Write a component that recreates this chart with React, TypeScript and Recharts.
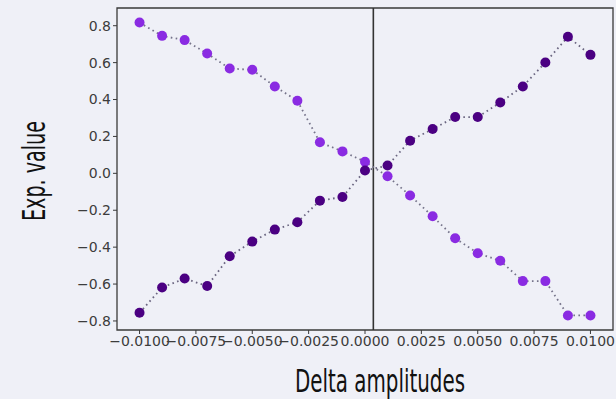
import React from 'react';
import { LineChart, Line, XAxis, YAxis, ReferenceLine, ReferenceArea, Label } from 'recharts';

// delta amplitude values on the x axis
const deltas = [
  -0.01, -0.009, -0.008, -0.007, -0.006, -0.005, -0.004, -0.003, -0.002, -0.001,
  0, 0.001, 0.002, 0.003, 0.004, 0.005, 0.006, 0.007, 0.008, 0.009, 0.01,
];

// light purple series (falling)
const expFalling = [
  0.817, 0.745, 0.722, 0.649, 0.568, 0.561, 0.471, 0.393, 0.168, 0.119,
  0.063, -0.016, -0.12, -0.233, -0.352, -0.433, -0.474, -0.584, -0.584, -0.77, -0.77,
];

// dark purple series (rising)
const expRising = [
  -0.756, -0.619, -0.57, -0.611, -0.449, -0.37, -0.305, -0.265, -0.148, -0.128,
  0.015, 0.042, 0.177, 0.24, 0.305, 0.305, 0.384, 0.471, 0.601, 0.74, 0.642,
];

const xTicks = [-0.01, -0.0075, -0.005, -0.0025, 0, 0.0025, 0.005, 0.0075, 0.01];
const yTicks = [-0.8, -0.6, -0.4, -0.2, 0, 0.2, 0.4, 0.6, 0.8];
const crossingX = 0.00037;

const X_DOMAIN: [number, number] = [-0.011, 0.011];
const Y_DOMAIN: [number, number] = [-0.849, 0.896];

const fmt = (v: number, digits: number) => v.toFixed(digits).replace('-', '\u2212');

const tickStyle = { fontFamily: 'DejaVu Sans', fontSize: 14, fill: '#3c3c3c' };
const labelFont = "'Liberation Sans Narrow', 'DejaVu Sans Condensed', 'DejaVu Sans'";

const App: React.FC = () => {
  const rows = deltas.map((d, i) => ({ x: d, falling: expFalling[i], rising: expRising[i] }));

  return (
    <div style={{ position: 'fixed', left: 0, top: 0, width: 616, height: 399, background: '#eff0f7' }}>
      <LineChart width={616} height={399} data={rows} margin={{ top: 8, right: 3, bottom: 0, left: 0 }}>
        <ReferenceArea
          x1={X_DOMAIN[0]}
          x2={X_DOMAIN[1]}
          y1={Y_DOMAIN[0]}
          y2={Y_DOMAIN[1]}
          fill="none"
          stroke="#3a3a3a"
          strokeWidth={1.3}
          fillOpacity={0}
        />
        <XAxis
          type="number"
          dataKey="x"
          domain={X_DOMAIN}
          ticks={xTicks}
          interval={0}
          allowDataOverflow
          height={69}
          axisLine={false}
          tickSize={4}
          tickLine={{ stroke: '#3a3a3a' }}
          tick={tickStyle}
          tickFormatter={(v: number) => fmt(v, 4)}
        >
          <Label
            content={() => (
              <text
                x={380}
                y={392}
                textAnchor="middle"
                textLength={170}
                lengthAdjust="spacingAndGlyphs"
                style={{ fontFamily: labelFont, fontSize: 32, fill: '#111' }}
              >
                Delta amplitudes
              </text>
            )}
          />
        </XAxis>
        <YAxis
          type="number"
          domain={Y_DOMAIN}
          ticks={yTicks}
          allowDataOverflow
          width={117}
          axisLine={false}
          tickSize={4}
          tickLine={{ stroke: '#3a3a3a' }}
          tick={tickStyle}
          tickFormatter={(v: number) => fmt(v, 1)}
        >
          <Label
            content={() => (
              <text
                x={45}
                y={171}
                transform="rotate(-90 45 171)"
                textAnchor="middle"
                textLength={100}
                lengthAdjust="spacingAndGlyphs"
                style={{ fontFamily: labelFont, fontSize: 32, fill: '#111' }}
              >
                Exp. value
              </text>
            )}
          />
        </YAxis>
        <ReferenceLine x={crossingX} stroke="#333" strokeWidth={1.6} />
        <Line
          type="linear"
          dataKey="falling"
          stroke="#75738a"
          strokeWidth={1.8}
          strokeDasharray="1.6 3.4"
          dot={{ r: 5, fill: '#8a2be2', stroke: '#8a2be2', strokeWidth: 0 }}
          activeDot={false}
          isAnimationActive={false}
        />
        <Line
          type="linear"
          dataKey="rising"
          stroke="#6a6580"
          strokeWidth={1.8}
          strokeDasharray="1.6 3.4"
          dot={{ r: 5, fill: '#4b0082', stroke: '#4b0082', strokeWidth: 0 }}
          activeDot={false}
          isAnimationActive={false}
        />
      </LineChart>
    </div>
  );
};

export default App;
